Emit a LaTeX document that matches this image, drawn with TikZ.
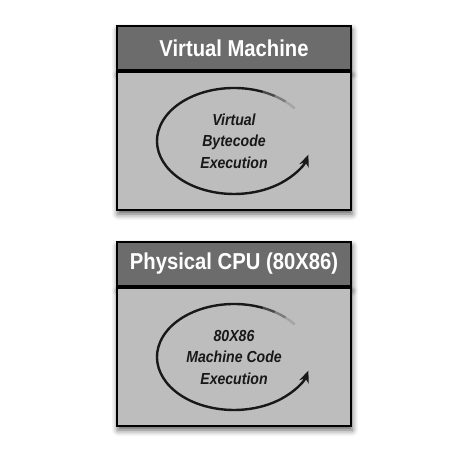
\documentclass[tikz,border=0pt]{standalone}
\usepackage{fontspec}
\setmainfont{Liberation Sans}
\newfontfamily\condfont[FakeStretch=0.88]{Liberation Sans}
\usetikzlibrary{positioning,arrows.meta,shadows.blur}
\definecolor{headgray}{RGB}{108,108,108}
\definecolor{bodygray}{RGB}{189,189,189}
\definecolor{loopink}{RGB}{24,24,24}
\tikzstyle{boxshadow}=[blur shadow={shadow xshift=1pt,shadow yshift=-4pt,shadow blur radius=6pt,shadow opacity=65}]
\tikzstyle{header}=[rectangle,minimum width=234pt,minimum height=44pt,inner sep=0pt,draw=black,line width=2pt,fill=headgray,text=white,font=\condfont\bfseries\fontsize{23}{28}\selectfont,boxshadow]
\tikzstyle{panel}=[rectangle,minimum width=234pt,minimum height=138pt,inner sep=0pt,draw=black,line width=2pt,fill=bodygray,boxshadow]
\tikzstyle{loopnote}=[align=center,text=loopink,font=\condfont\bfseries\itshape\fontsize{16}{21.5}\selectfont]
\tikzstyle{fade}=[line width=2.4pt]
\tikzstyle{loop}=[line width=2.4pt,loopink,-{Stealth[length=12pt,width=10pt]}]

\begin{document}
\begin{tikzpicture}[x=1pt,y=1pt]
            \useasboundingbox (0,0) rectangle (468,448);
            % virtual machine
            \node (vmhead)[header] at (234,400) {Virtual Machine};
            \node (vmbody)[panel,below=0pt of vmhead] {};
            \node (vmtext)[loopnote] at (vmbody.center) {Virtual\\Bytecode\\Execution};
            \draw [fade,loopink!15!bodygray] (vmbody.center) ++(38:77pt and 53pt) arc[start angle=38,end angle=48,x radius=77pt,y radius=53pt];
            \draw [fade,loopink!40!bodygray] (vmbody.center) ++(48:77pt and 53pt) arc[start angle=48,end angle=58,x radius=77pt,y radius=53pt];
            \draw [fade,loopink!70!bodygray] (vmbody.center) ++(58:77pt and 53pt) arc[start angle=58,end angle=68,x radius=77pt,y radius=53pt];
            \draw [loop] (vmbody.center) ++(68:77pt and 53pt) arc[start angle=68,end angle=345,x radius=77pt,y radius=53pt];
            % physical cpu
            \node (cpuhead)[header] at (234,184) {Physical CPU (80X86)};
            \node (cpubody)[panel,below=0pt of cpuhead] {};
            \node (cputext)[loopnote] at (cpubody.center) {80X86\\Machine Code\\Execution};
            \draw [fade,loopink!15!bodygray] (cpubody.center) ++(38:77pt and 53pt) arc[start angle=38,end angle=48,x radius=77pt,y radius=53pt];
            \draw [fade,loopink!40!bodygray] (cpubody.center) ++(48:77pt and 53pt) arc[start angle=48,end angle=58,x radius=77pt,y radius=53pt];
            \draw [fade,loopink!70!bodygray] (cpubody.center) ++(58:77pt and 53pt) arc[start angle=58,end angle=68,x radius=77pt,y radius=53pt];
            \draw [loop] (cpubody.center) ++(68:77pt and 53pt) arc[start angle=68,end angle=345,x radius=77pt,y radius=53pt];
        \end{tikzpicture}
\end{document}
